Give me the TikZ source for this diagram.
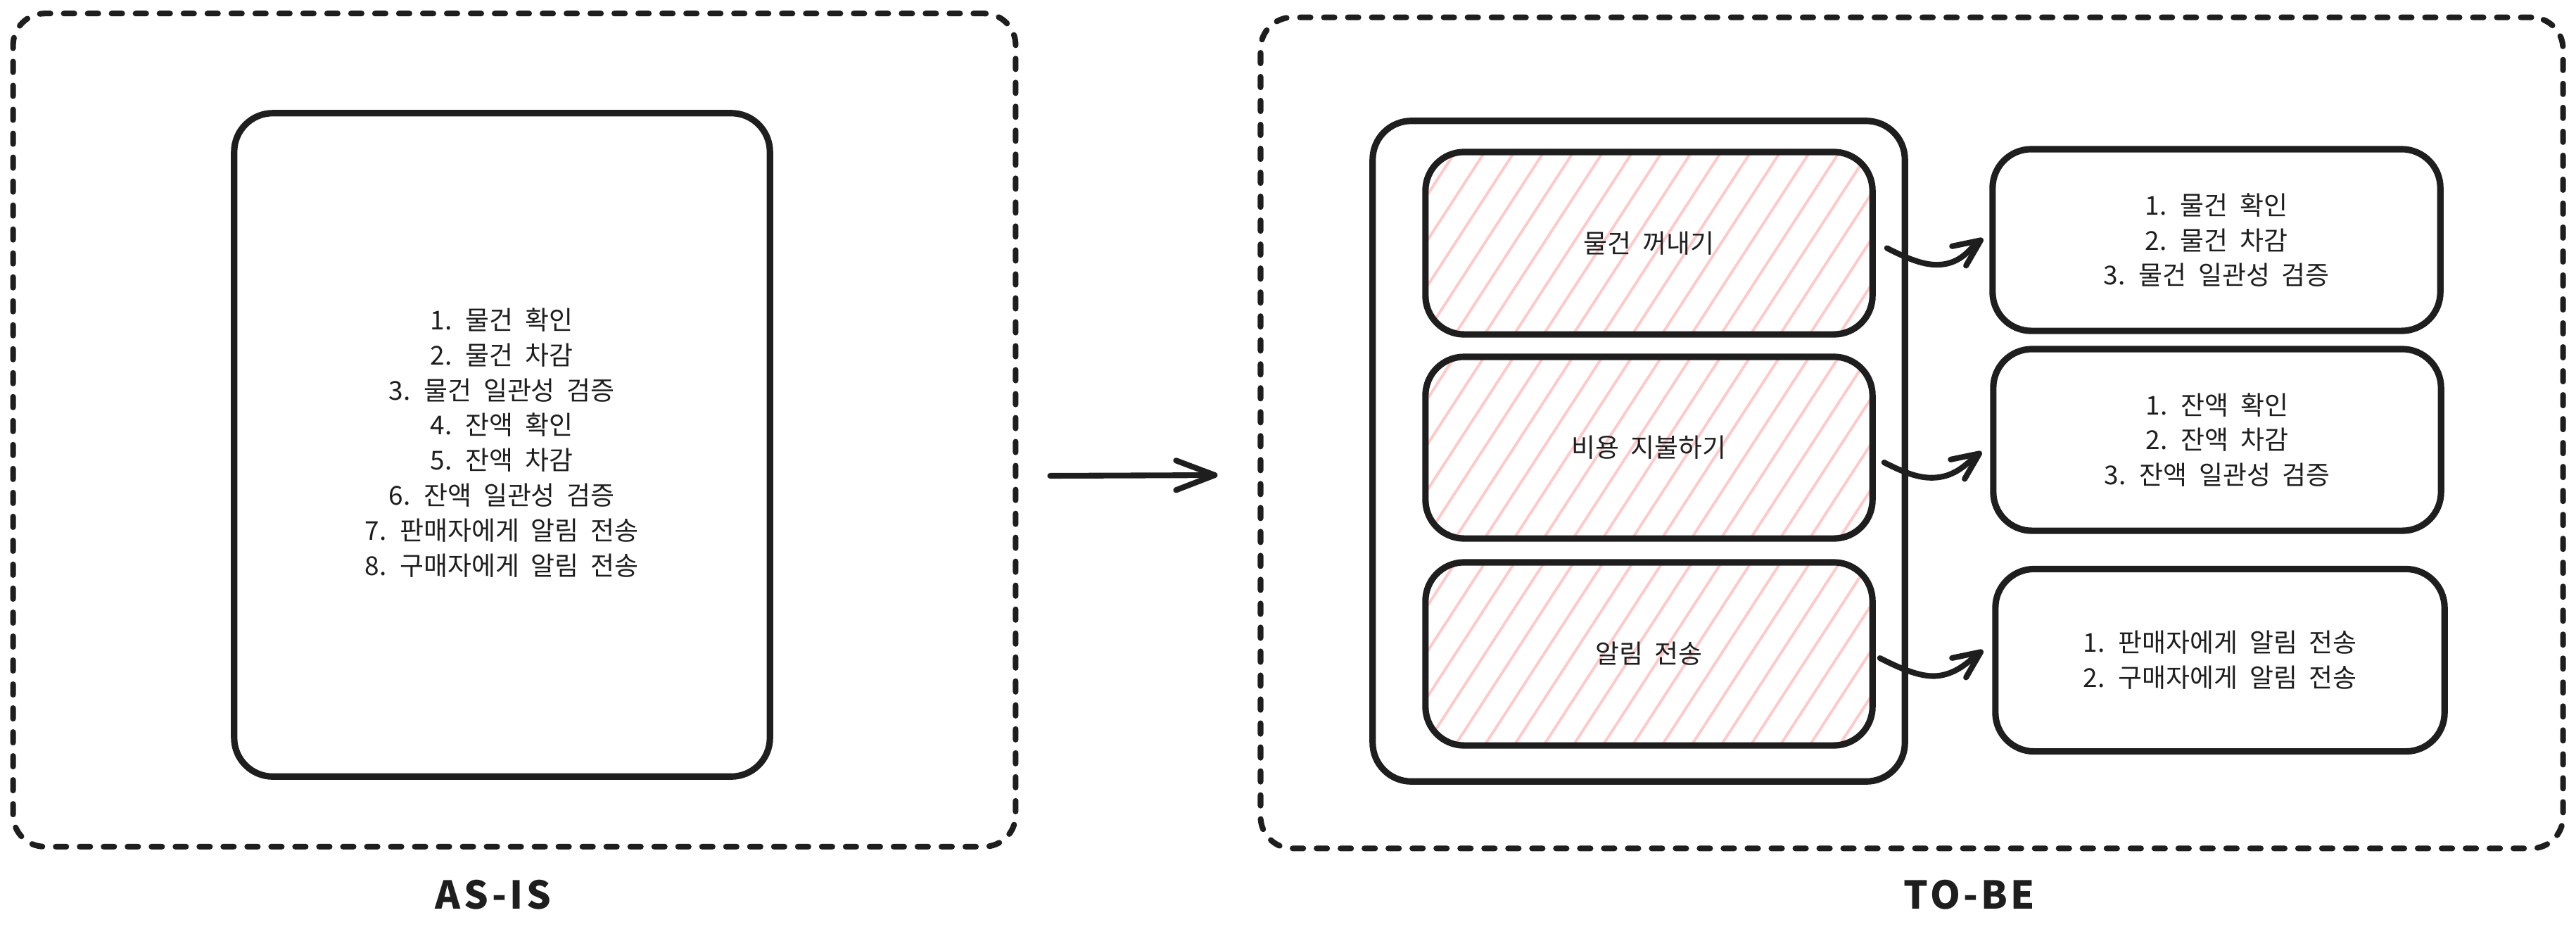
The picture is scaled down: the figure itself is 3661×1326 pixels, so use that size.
\documentclass[tikz,border=0pt]{standalone}
\usepackage{fontspec}
\setmainfont{Noto Sans CJK KR}[WordSpace=2]
\newfontfamily\lblfont{Noto Sans CJK KR}[LetterSpace=8]
\usetikzlibrary{arrows.meta,calc}
\definecolor{ink}{HTML}{1E1E1E}
\definecolor{hatchc}{HTML}{FFC9C9}
\begin{document}
\begin{tikzpicture}[x=0.01cm,y=-0.01cm,
  box/.style={draw=ink, line width=2.6pt, rounded corners=0.55cm, inner sep=0pt,
    align=center, font=\fontsize{10.5}{14.2}\selectfont, text=ink},
  dashbox/.style={draw=ink, line width=2.3pt, line cap=round, dash pattern=on 0.15cm off 0.19cm,
    rounded corners=0.45cm, inner sep=0pt},
  hatchbox/.style={box, path picture={
      \foreach \k in {-6,...,17}{
        \draw[hatchc, line width=1.1pt] ($(path picture bounding box.south west)+(\k*42,0)$) -- ++(57:6cm);}
    }},
  txt/.style={align=center, inner sep=0pt, text=ink, font=\fontsize{10.5}{14.2}\selectfont},
  lbl/.style={inner sep=0pt, text=ink, font=\lblfont\bfseries\fontsize{15.5}{18}\selectfont},
  bigarr/.style={draw=ink, line width=2.3pt, line cap=round, line join=round,
    -{Straight Barb[length=0.55cm,width=0.42cm,line cap=round,line join=round]}},
  curvearr/.style={draw=ink, line width=2.3pt, line cap=round, line join=round,
    -{Straight Barb[length=0.38cm,width=0.34cm,line cap=round,line join=round]}}
]
\useasboundingbox (0,0) rectangle (3661,1326);
\fill[white] (0,0) rectangle (3661,1326);

% AS-IS side
\node[dashbox, minimum width=14.24cm, minimum height=11.83cm] (asisOuter) at (731,611) {};
\node[box, minimum width=7.61cm, minimum height=9.42cm] (asisBox) at (713.5,632) {};
\node[txt] (asisText) at (713,629) {1. 물건 확인\\2. 물건 차감\\3. 물건 일관성 검증\\4. 잔액 확인\\5. 잔액 차감\\6. 잔액 일관성 검증\\7. 판매자에게 알림 전송\\8. 구매자에게 알림 전송};
\node[lbl] (asisLbl) at (701,1271) {AS-IS};

% TO-BE side
\node[dashbox, minimum width=18.5cm, minimum height=11.8cm] (tobeOuter) at (2717,615) {};
\node[box, minimum width=7.56cm, minimum height=9.38cm] (container) at (2329,641) {};
\node[hatchbox, minimum width=6.35cm, minimum height=2.59cm] (h1) at (2343.5,345.5) {물건 꺼내기};
\node[hatchbox, minimum width=6.35cm, minimum height=2.58cm] (h2) at (2343.5,636) {비용 지불하기};
\node[hatchbox, minimum width=6.35cm, minimum height=2.60cm] (h3) at (2343.5,929) {알림 전송};
\node[box, minimum width=6.36cm, minimum height=2.58cm] (r1) at (3150,341) {1. 물건 확인\\2. 물건 차감\\3. 물건 일관성 검증};
\node[box, minimum width=6.36cm, minimum height=2.58cm] (r2) at (3151,625) {1. 잔액 확인\\2. 잔액 차감\\3. 잔액 일관성 검증};
\node[box, minimum width=6.38cm, minimum height=2.59cm] (r3) at (3155,938) {1. 판매자에게 알림 전송\\2. 구매자에게 알림 전송};
\node[lbl] (tobeLbl) at (2799,1271) {TO-BE};

% connectors
\draw[bigarr] ($(asisOuter.east)+(45,65)$) -- ($(tobeOuter.west)+(-57,60)$);

\draw[curvearr] ($(h1.east)+(16,7)$) .. controls ($(h1.east)+(51,25)$) and ($(h1.east)+(74,33)$) .. ($(h1.east)+(96,30)$)
  .. controls ($(h1.east)+(124,26)$) and ($(r1.west)+(-27,11)$) .. ($(r1.west)+(-9,-2)$);
\draw[curvearr] ($(h2.east)+(12,21)$) .. controls ($(h2.east)+(47,39)$) and ($(h2.east)+(68,45)$) .. ($(h2.east)+(90,42)$)
  .. controls ($(h2.east)+(118,38)$) and ($(r2.west)+(-30,30)$) .. ($(r2.west)+(-12,17)$);
\draw[curvearr] ($(h3.east)+(6,6)$) .. controls ($(h3.east)+(41,24)$) and ($(h3.east)+(68,34)$) .. ($(h3.east)+(90,31)$)
  .. controls ($(h3.east)+(118,27)$) and ($(r3.west)+(-31,-1)$) .. ($(r3.west)+(-13,-14)$);
\end{tikzpicture}
\end{document}
